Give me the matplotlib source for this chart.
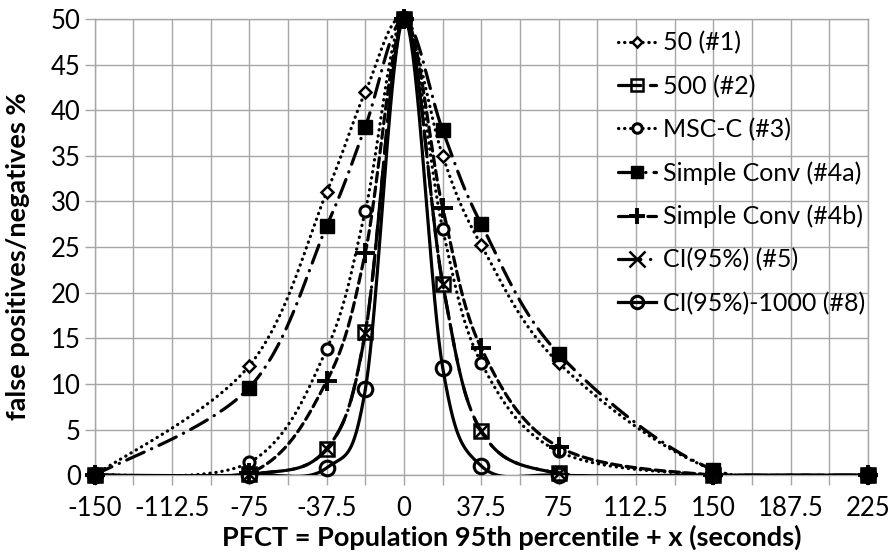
import numpy as np
import matplotlib
matplotlib.use("Agg")
import matplotlib.pyplot as plt
from matplotlib.lines import Line2D
from matplotlib.ticker import MultipleLocator, FuncFormatter

plt.rcParams['font.family'] = ['Lato', 'DejaVu Sans']

x = [-150, -75, -37.5, -18.75, 0, 18.75, 37.5, 75, 150, 225]

s1 = [0, 12.0, 31.0, 42.0, 50, 35.0, 25.2, 12.3, 0.6, 0]      # 50 (#1)
s2 = [0, 0.1, 2.9, 15.7, 50, 21.0, 4.8, 0.2, 0, 0]            # 500 (#2)
s3 = [0, 1.4, 13.8, 29.0, 50, 27.0, 12.3, 2.6, 0, 0]          # MSC-C (#3)
s4a = [0, 9.6, 27.3, 38.2, 50, 37.8, 27.5, 13.3, 0.6, 0]      # Simple Conv (#4a)
s4b = [0, 0.2, 10.3, 24.4, 50, 29.3, 13.9, 3.1, 0, 0]         # Simple Conv (#4b)
s5 = [0, 0.1, 2.9, 15.6, 50, 21.0, 4.8, 0.2, 0, 0]            # CI(95%) (#5)
s8 = [0, 0, 0.8, 9.4, 50, 11.8, 1.0, 0, 0, 0]                 # CI(95%)-1000 (#8)

labels = ['50 (#1)', '500 (#2)', 'MSC-C (#3)', 'Simple Conv (#4a)',
          'Simple Conv (#4b)', 'CI(95%) (#5)', 'CI(95%)-1000 (#8)']


def smooth(xs, ys, n=40):
    # excel-like bezier smoothing through the points
    p = np.column_stack([xs, ys]).astype(float)
    p = np.vstack([p[0], p, p[-1]])
    out = []
    for i in range(1, len(p) - 2):
        p0, p1, p2, p3 = p[i - 1], p[i], p[i + 1], p[i + 2]
        c1 = p1 + (p2 - p0) / 6
        c2 = p2 - (p3 - p1) / 6
        t = np.linspace(0, 1, n)[:, None]
        seg = ((1 - t) ** 3 * p1 + 3 * (1 - t) ** 2 * t * c1
               + 3 * (1 - t) * t ** 2 * c2 + t ** 3 * p2)
        out.append(seg if i == 1 else seg[1:])
    out = np.vstack(out)
    return out[:, 0], out[:, 1]


styles = [
    dict(ls=(0, (0.1, 1.8)), marker='D', ms=6.5, mfc='white', mew=1.8),
    dict(ls=(0, (7, 3)), marker='s', ms=10, mfc='none', mew=1.8),
    dict(ls=(0, (0.1, 1.8)), marker='o', ms=8, mfc='white', mew=2.2),
    dict(ls=(0, (6, 2.5, 0.1, 2.5)), marker='s', ms=9.5, mfc='black', mew=1),
    dict(ls=(0, (3, 1.6)), marker='+', ms=14, mfc='black', mew=2.8),
    dict(ls=(0, (7, 3, 0.1, 3)), marker='x', ms=9.5, mfc='black', mew=1.8),
    dict(ls='-', marker='o', ms=10.5, mfc='none', mew=2.2),
]
series = [s1, s2, s3, s4a, s4b, s5, s8]

fig, ax = plt.subplots(figsize=(8.93, 5.59), dpi=100)
fig.subplots_adjust(left=0.106, right=0.972, bottom=0.150, top=0.966)

handles = []
for ys, st, lab in zip(series, styles, labels):
    sx, sy = smooth(x, ys)
    ax.plot(sx, sy, color='black', lw=2.3, linestyle=st['ls'],
            dash_capstyle='round', solid_capstyle='butt', zorder=3)
    ax.plot(x, ys, linestyle='none', marker=st['marker'], ms=st['ms'],
            mfc=st['mfc'], mec='black', mew=st['mew'], zorder=4, clip_on=False)
    leg_ms = st['ms'] * (1.2 if st['marker'] == 'x' else 0.85)
    handles.append(Line2D([], [], color='black', lw=2.3, linestyle=st['ls'],
                          dash_capstyle='round', marker=st['marker'], ms=leg_ms,
                          mfc=st['mfc'], mec='black', mew=st['mew']))

ax.set_xlim(-150, 225)
ax.set_ylim(0, 50)
ax.xaxis.set_major_locator(MultipleLocator(37.5))
ax.xaxis.set_minor_locator(MultipleLocator(18.75))
ax.yaxis.set_major_locator(MultipleLocator(5))
ax.xaxis.set_major_formatter(FuncFormatter(lambda v, p: ('%g' % v)))

grid_c = '#a6a6a6'
ax.grid(True, which='both', axis='x', color=grid_c, lw=1, zorder=0)
ax.grid(True, which='major', axis='y', color=grid_c, lw=1, zorder=0)
for sp in ax.spines.values():
    sp.set_color(grid_c)
    sp.set_linewidth(1)
ax.tick_params(axis='both', which='both', length=7, color=grid_c, width=1,
               labelsize=18.5, pad=3)
ax.tick_params(axis='x', which='major', pad=8)
ax.set_axisbelow(True)

ax.set_xlabel('PFCT = Population 95th percentile + x (seconds)', fontsize=19.5,
              fontweight='bold')
ax.xaxis.set_label_coords(0.539, -0.108)
ax.set_ylabel('false positives/negatives %', fontsize=19.5, fontweight='bold')
ax.yaxis.set_label_coords(-0.083, 0.48)

ax.legend(handles, labels, loc='upper left', bbox_to_anchor=(0.664, 0.995),
          frameon=False, fontsize=18, handlelength=1.5, handletextpad=0.3,
          labelspacing=0.8, borderaxespad=0)

fig.savefig('out.png', dpi=100)
